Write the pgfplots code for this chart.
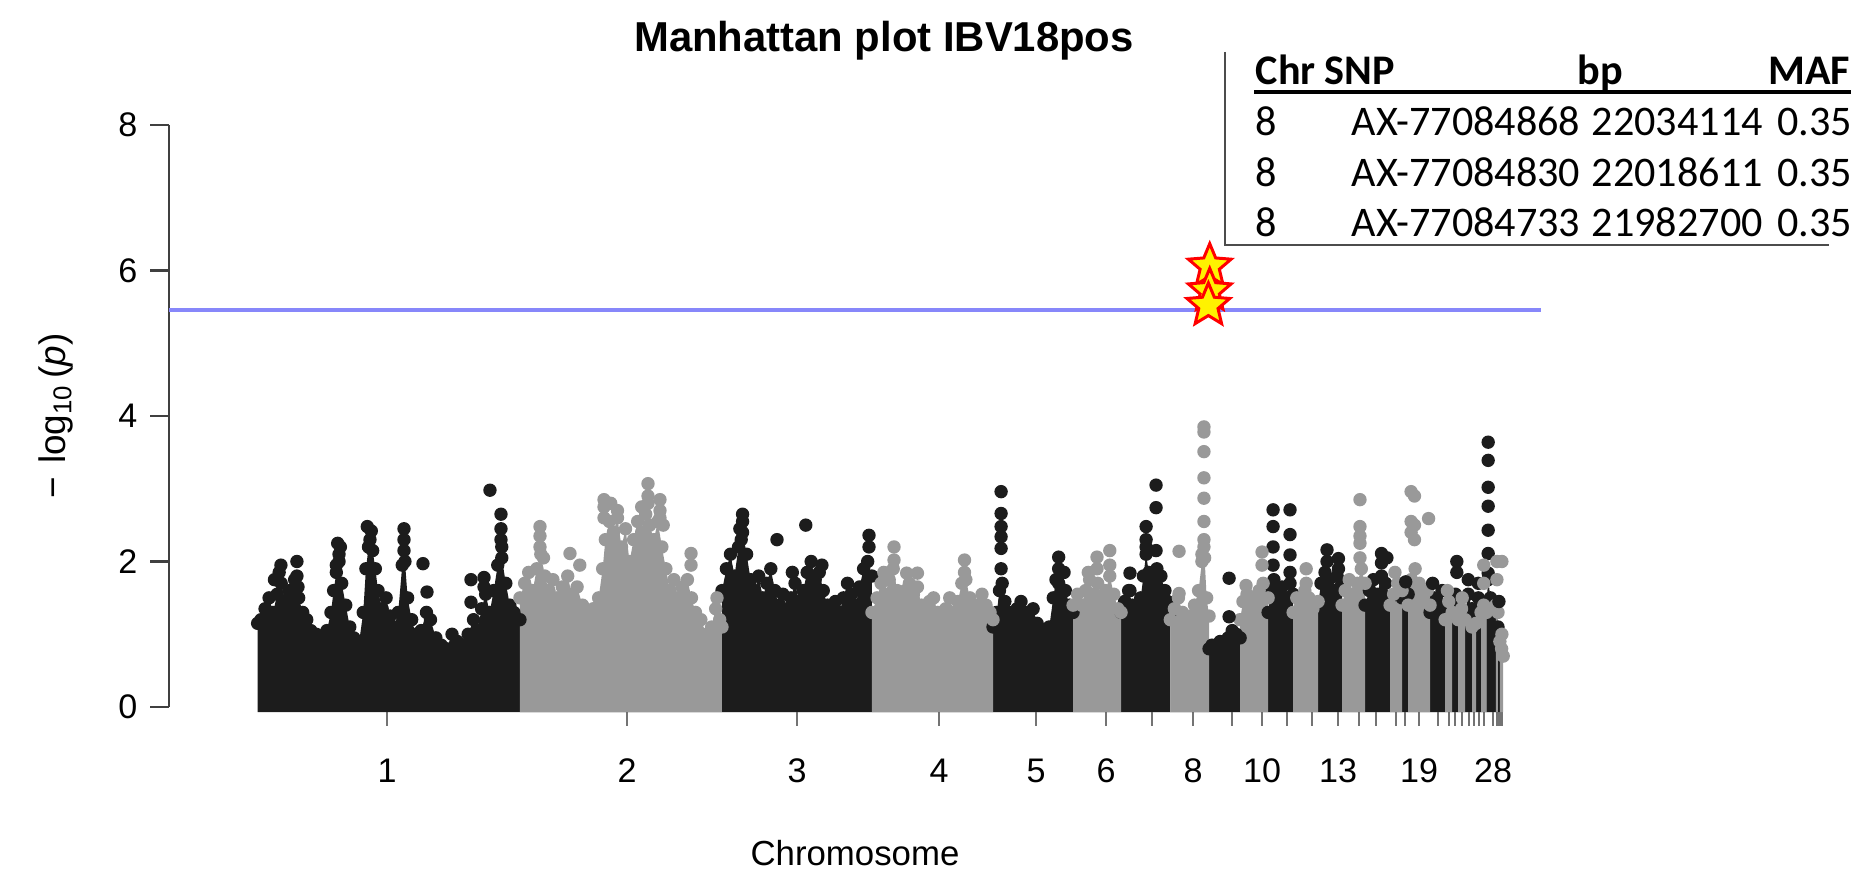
\documentclass[border=0pt]{standalone}
\usepackage{fontspec}
\setmainfont{Liberation Sans}
\newfontfamily\tabfont{Carlito}
\usepackage{pgfplots}
\pgfplotsset{compat=1.18}
\usepackage{pgfplotstable}

\definecolor{dk}{RGB}{28,28,28}
\definecolor{lt}{RGB}{153,153,153}
\definecolor{thr}{RGB}{135,135,250}

\pgfdeclareplotmark{fstar}{%
 \pgfpathmoveto{\pgfpointpolar{90}{\pgfplotmarksize}}%
 \pgfpathlineto{\pgfpointpolar{126}{0.45\pgfplotmarksize}}%
 \pgfpathlineto{\pgfpointpolar{162}{\pgfplotmarksize}}%
 \pgfpathlineto{\pgfpointpolar{198}{0.45\pgfplotmarksize}}%
 \pgfpathlineto{\pgfpointpolar{234}{\pgfplotmarksize}}%
 \pgfpathlineto{\pgfpointpolar{270}{0.45\pgfplotmarksize}}%
 \pgfpathlineto{\pgfpointpolar{306}{\pgfplotmarksize}}%
 \pgfpathlineto{\pgfpointpolar{342}{0.45\pgfplotmarksize}}%
 \pgfpathlineto{\pgfpointpolar{18}{\pgfplotmarksize}}%
 \pgfpathlineto{\pgfpointpolar{54}{0.45\pgfplotmarksize}}%
 \pgfpathclose
 \pgfusepathqfillstroke
}

% dense-mass envelopes (cumulative position in Mb, -log10 p); odd chromosomes
\pgfplotstableread{
x y
0.5 -0.07
0.5 1.15
3 1.2
6 1.35
9 1.5
12 1.3
15 1.55
18 1.7
21 1.45
24 1.6
28 1.75
31 1.5
34 1.3
37 1.2
40 1.05
44 1.0
48 0.95
52 1.05
55 1.3
57 1.6
59 1.85
61 2.0
63 1.7
66 1.4
69 1.1
72 0.95
76 0.9
79 1.3
81 1.9
83 2.2
86 2.15
88 1.9
90 1.6
93 1.35
96 1.5
99 1.25
102 1.1
105 1.3
108 1.95
110 2.0
112 1.5
115 1.2
118 1.0
122 1.05
126 1.3
129 1.2
133 0.95
137 0.85
141 0.8
145 1.0
149 0.9
153 0.85
157 1.0
161 1.2
164 1.05
167 1.35
170 1.55
173 1.3
176 1.6
179 1.95
182 2.05
185 1.7
188 1.4
191 1.3
195.5 1.2
195.5 -0.07
345.7 -0.07
345.7 1.6
349 1.9
352 2.1
355 1.8
358 2.2
361 2.4
364 2.1
367 1.75
370 1.6
373 1.8
376 1.5
379 1.7
382 1.9
385 1.6
388 1.4
391 1.55
394 1.35
397 1.5
400 1.7
403 1.45
406 1.6
409 1.85
412 2.0
415 1.75
418 1.85
421 1.6
424 1.4
427 1.3
430 1.45
433 1.3
436 1.5
439 1.7
442 1.55
445 1.4
448 1.65
451 1.9
454 2.0
457.2 1.8
457.2 -0.07
547.2 -0.07
547.2 1.1
550 1.3
552 1.6
554 1.7
556 1.45
559 1.3
562 1.2
565 1.35
568 1.45
571 1.3
574 1.2
577 1.35
580 1.15
583 1.05
586 1.0
589 1.1
592 1.5
594 1.75
596 1.7
598 1.55
601 1.6
604 1.4
606.7 1.3
606.7 -0.07
642.4 -0.07
642.4 1.3
645 1.45
648 1.6
651 1.4
654 1.3
657 1.5
659 1.8
661 2.1
663 1.85
666 1.75
669 1.9
672 1.8
675 1.6
677 1.45
679 1.3
679 -0.07
707.8 -0.07
707.8 0.8
710 0.85
713 0.8
716 0.9
719 0.85
722 0.95
725 1.05
728 1.0
730.9 0.95
730.9 -0.07
751.7 -0.07
751.7 1.3
754 1.6
756 1.75
759 1.55
762 1.65
765 1.5
768 1.7
770.3 1.55
770.3 -0.07
788.9 -0.07
788.9 1.4
791 1.7
794 1.85
797 1.75
800 1.6
803 1.8
806.7 1.7
806.7 -0.07
823.8 -0.07
823.8 1.4
827 1.6
830 1.75
833 1.55
836 1.8
839 1.7
842.4 1.5
842.4 -0.07
851.3 -0.07
851.3 1.5
853.5 1.7
855.8 1.55
855.8 -0.07
872.1 -0.07
872.1 1.3
875 1.5
878 1.4
881 1.6
883.3 1.3
883.3 -0.07
888.5 -0.07
888.5 1.3
891 1.55
893 1.4
893 -0.07
898.2 -0.07
898.2 1.3
900.5 1.55
903.3 1.35
903.3 -0.07
906.3 -0.07
906.3 1.3
908 1.5
910 1.35
910 -0.07
914 -0.07
914 1.4
915.3 1.75
917 1.5
919 1.4
921 1.3
921 -0.07
922.6 -0.07
922.6 1.1
924 1.0
924 -0.07
}\blackenv

% even chromosomes
\pgfplotstableread{
x y
195.5 -0.07
195.5 1.5
199 1.7
202 1.85
205 1.6
208 1.9
211 2.1
214 1.8
217 1.6
220 1.75
223 1.5
227 1.65
231 1.8
234 1.55
238 1.65
242 1.4
246 1.3
250 1.35
254 1.5
257 1.9
259 2.3
262 2.55
265 2.4
268 2.6
271 2.2
274 2.45
277 2.0
280 2.3
283 2.55
286 2.4
289 2.65
292 2.5
295 2.3
298 2.55
301 2.2
304 1.9
307 1.6
310 1.75
313 1.5
316 1.65
320 1.75
323 1.5
326 1.3
330 1.2
334 1.0
338 1.1
341 1.35
344 1.2
345.7 1.1
345.7 -0.07
457.2 -0.07
457.2 1.3
461 1.5
464 1.7
467 1.55
470 1.75
473 1.9
476 1.6
479 1.45
482 1.6
485 1.7
488 1.55
491 1.65
494 1.4
497 1.3
500 1.45
503 1.5
506 1.3
509 1.2
512 1.35
515 1.5
518 1.3
521 1.45
524 1.7
527 1.75
530 1.5
533 1.35
536 1.4
539 1.55
542 1.4
545 1.3
547.2 1.2
547.2 -0.07
606.7 -0.07
606.7 1.4
610 1.55
613 1.4
616 1.6
619 1.75
622 1.55
625 1.7
628 1.5
631 1.6
634 1.8
637 1.55
640 1.35
642.4 1.3
642.4 -0.07
679 -0.07
679 1.2
682 1.35
685 1.5
688 1.3
691 1.2
694 1.25
697 1.4
700 1.6
702.5 2.0
704.5 2.05
706 1.5
707.8 1.25
707.8 -0.07
730.9 -0.07
730.9 1.2
733 1.45
736 1.55
739 1.4
742 1.5
745 1.6
748 1.7
751.7 1.5
751.7 -0.07
770.3 -0.07
770.3 1.3
773 1.5
776 1.4
779 1.6
782 1.5
785 1.35
788.9 1.45
788.9 -0.07
806.7 -0.07
806.7 1.4
809 1.6
812 1.75
815 1.55
818 1.7
821 1.9
823.8 1.7
823.8 -0.07
842.4 -0.07
842.4 1.4
845 1.55
848 1.7
851.3 1.6
851.3 -0.07
855.8 -0.07
855.8 1.4
858 1.75
861 1.9
864 1.7
867 1.5
870 1.6
872.1 1.4
872.1 -0.07
883.3 -0.07
883.3 1.2
886 1.45
888.5 1.3
888.5 -0.07
893 -0.07
893 1.2
895.5 1.35
898.2 1.2
898.2 -0.07
903.3 -0.07
903.3 1.1
906.3 1.15
906.3 -0.07
910 -0.07
910 1.3
912 1.4
914 1.3
914 -0.07
921 -0.07
921 1.4
922.6 1.3
922.6 -0.07
924 -0.07
924 0.9
925.3 0.8
926.5 0.7
926.5 -0.07
}\grayenv

% single SNPs standing out above the dense mass
\pgfplotstableread{
x y
17.8 1.95
16.5 1.85
13 1.75
29.7 2.0
29.7 1.8
30.5 1.65
60 2.25
61 2.1
59 1.95
62 2.2
82 2.48
85 2.42
84 2.3
83 2.2
109.3 2.45
109.3 2.3
109.3 2.15
123.4 1.97
126.4 1.58
159.1 1.75
159.1 1.44
168.8 1.78
168.8 1.65
173.2 2.98
181.4 2.65
181.4 2.45
181.4 2.3
182 2.2
361 2.65
361 2.55
359 2.45
360 2.3
386.6 2.3
408 2.5
455 2.36
455 2.2
420 1.95
398 1.85
553.2 2.96
553.2 2.66
553.2 2.48
553.2 2.34
553.2 2.18
553.2 1.9
596 2.06
596 1.9
600 1.85
649 1.84
649 1.6
661 2.48
661 2.3
661 2.2
668.4 3.05
668.4 2.74
668.4 2.15
722.7 1.77
722.7 1.24
755.4 2.71
755.4 2.48
755.4 2.2
755.4 1.95
768 2.71
768 2.37
768 2.09
768 1.85
795.5 2.16
795.5 2.0
804 2.04
804 1.9
836 2.11
836 1.98
840 2.05
854 1.72
874 1.7
892 2.0
892 1.85
900.5 1.75
908 1.7
915.3 3.64
915.3 3.39
915.3 3.02
915.3 2.76
915.3 2.43
915.3 2.11
915.3 1.84
923.3 1.45
}\blackpts

\pgfplotstableread{
x y
210.4 2.48
210.4 2.35
210.4 2.2
213 2.05
232.7 2.11
240 1.95
258 2.85
258 2.75
258 2.6
263 2.8
268 2.7
290.7 3.07
290.7 2.9
290.7 2.8
286 2.75
299.6 2.85
299.6 2.7
299.6 2.6
302 2.5
322.7 2.11
322.7 1.95
342 1.5
473.6 2.2
473.6 2.02
483 1.84
491 1.84
526 2.02
526 1.85
466 1.85
624.5 2.06
624.5 1.9
634 2.15
634 1.95
618 1.85
685.5 2.14
685.5 1.56
704 3.85
704 3.78
704 3.51
704 3.15
704 2.87
704 2.55
704 2.3
704 2.2
702.5 2.1
735.3 1.67
747.2 2.13
747.2 1.95
780 1.9
780 1.7
820 2.85
820 2.48
820 2.35
820 2.25
820 2.05
846 1.85
858 2.96
858 2.55
858 2.4
860.5 2.9
860.5 2.5
860.5 2.3
871 2.59
885 1.6
896 1.5
912 1.7
912 1.95
921.8 2.0
921.8 1.75
925.5 2.0
925.5 1.0
}\graypts

\begin{document}
\begin{tikzpicture}
\begin{axis}[
  scale only axis,
  width=13.72cm, height=5.82cm,
  xmin=-65.4, xmax=954.6, ymin=0, ymax=8,
  clip=false,
  axis x line*=bottom, axis y line*=left,
  x axis line style={draw=none},
  y axis line style={black!75, line width=0.6pt},
  tick align=outside,
  major tick length=0.19cm,
  xtick style={black!55, line width=0.6pt},
  ytick style={black!75, line width=0.6pt},
  ytick={0,2,4,6,8}, yticklabels={0,2,4,6,8},
  xtick={96.7,275.1,401.5,507.1,579.2,631.2,665.4,695.9,724.9,747.2,765.8,784.4,803.7,819.3,832.0,846.5,853.5,864.0,877.7,886.0,890.7,895.6,900.8,904.8,908.2,912.0,918.9,921.8,923.3,925.2},
  xticklabels={1,2,3,4,5,6,{},8,{},10,{},{},13,{},{},{},{},19,{},{},{},{},{},{},{},{},28,{},{},{}},
  tick label style={font=\fontsize{9.7}{11}\selectfont},
  yticklabel style={anchor=east, inner sep=0pt, xshift=-0.12cm},
  xticklabel style={anchor=north, inner sep=0pt, yshift=-0.32cm},
]
\addplot[fill=dk, draw=none] table {\blackenv} -- cycle;
\addplot[fill=lt, draw=none] table {\grayenv} -- cycle;
\addplot[only marks, mark=*, mark size=1.7pt, color=dk, restrict y to domain=0:10] table {\blackenv};
\addplot[only marks, mark=*, mark size=1.7pt, color=lt, restrict y to domain=0:10] table {\grayenv};
\addplot[only marks, mark=*, mark size=1.7pt, color=dk] table {\blackpts};
\addplot[only marks, mark=*, mark size=1.7pt, color=lt] table {\graypts};
\addplot[thr, line width=1pt] coordinates {(-65.4,5.46) (954.6,5.46)};
\addplot[only marks, mark=fstar, mark size=6.4pt, mark options={fill=yellow, draw=red, line width=0.85pt}] coordinates {(708.3,6.06) (708.3,5.72) (707.3,5.52)};
\end{axis}
% title and axis titles
\node[anchor=base, font=\fontsize{11.9}{14}\selectfont\bfseries] at (7.15,6.55) {Manhattan plot IBV18pos};
\node[anchor=base, font=\fontsize{9.9}{11}\selectfont] at (6.86,-1.59) {Chromosome};
\node[rotate=90, font=\fontsize{10.5}{12}\selectfont] at (-1.13,2.91) {−\hspace{0.35em}log\textsubscript{10}\hspace{0.15em}(\textit{p})};
% table of significant SNPs
\begin{scope}[every node/.style={inner sep=0pt, font=\tabfont\fontsize{12}{14}\selectfont}]
\draw[black!70, line width=0.6pt] (10.56,6.55) -- (10.56,4.62) -- (16.60,4.62);
\draw[black, line width=0.9pt] (10.85,6.15) -- (16.82,6.15);
\node[anchor=base west, font=\tabfont\fontsize{12}{14}\selectfont\bfseries] at (10.86,6.22) {Chr};
\node[anchor=base west, font=\tabfont\fontsize{12}{14}\selectfont\bfseries] at (11.55,6.22) {SNP};
\node[anchor=base, font=\tabfont\fontsize{12}{14}\selectfont\bfseries] at (14.31,6.22) {bp};
\node[anchor=base east, font=\tabfont\fontsize{12}{14}\selectfont\bfseries] at (16.82,6.22) {MAF};
\node[anchor=base west] at (10.86,5.71) {8};
\node[anchor=base west] at (11.82,5.71) {AX-77084868};
\node[anchor=base west] at (14.22,5.71) {22034114};
\node[anchor=base east] at (16.84,5.71) {0.35};
\node[anchor=base west] at (10.86,5.20) {8};
\node[anchor=base west] at (11.82,5.20) {AX-77084830};
\node[anchor=base west] at (14.22,5.20) {22018611};
\node[anchor=base east] at (16.84,5.20) {0.35};
\node[anchor=base west] at (10.86,4.70) {8};
\node[anchor=base west] at (11.82,4.70) {AX-77084733};
\node[anchor=base west] at (14.22,4.70) {21982700};
\node[anchor=base east] at (16.84,4.70) {0.35};
\end{scope}
\pgfresetboundingbox
\path[use as bounding box] (-1.69,-1.63) rectangle (16.85,7.07);
\end{tikzpicture}
\end{document}
